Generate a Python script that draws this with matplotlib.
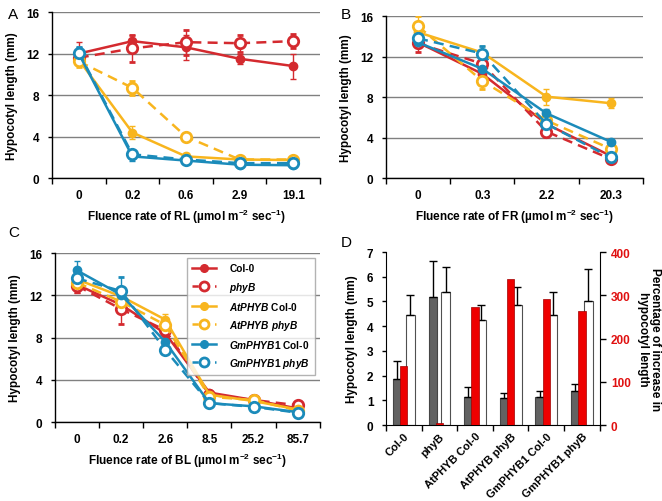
import numpy as np
import matplotlib
matplotlib.use('Agg')
import matplotlib.pyplot as plt
from matplotlib.lines import Line2D

plt.rcParams['font.family'] = ['Liberation Sans', 'DejaVu Sans']
plt.rcParams['font.weight'] = 'bold'
plt.rcParams['mathtext.fontset'] = 'custom'
plt.rcParams['mathtext.rm'] = 'Liberation Sans:bold'
plt.rcParams['mathtext.bf'] = 'Liberation Sans:bold'
plt.rcParams['mathtext.it'] = 'Liberation Sans:bold:italic'
plt.rcParams['mathtext.default'] = 'bf'

# --- Data ---
# Panel A: red light
rl_levels = ['0', '0.2', '0.6', '2.9', '19.1']
a_col0 = [12.0, 13.2, 12.6, 11.5, 10.8]
a_col0_err = [1.1, 0.6, 1.2, 0.5, 1.2]
a_phyb = [11.6, 12.5, 13.1, 13.0, 13.2]
a_phyb_err = [0.5, 1.3, 1.2, 0.8, 0.7]
a_at_col0 = [11.4, 4.4, 2.1, 1.8, 1.75]
a_at_col0_err = [0.5, 0.6, 0.3, 0.2, 0.2]
a_at_phyb = [11.25, 8.7, 4.0, 1.8, 1.8]
a_at_phyb_err = [0.5, 0.7, 0.4, 0.2, 0.2]
a_gm_col0 = [12.0, 2.1, 1.7, 1.3, 1.25]
a_gm_col0_err = [0.6, 0.4, 0.2, 0.2, 0.2]
a_gm_phyb = [12.1, 2.3, 1.8, 1.45, 1.45]
a_gm_phyb_err = [0.5, 0.4, 0.2, 0.2, 0.2]

# Panel B: far-red light
fr_levels = ['0', '0.3', '2.2', '20.3']
b_col0 = [13.4, 10.3, 5.35, 2.2]
b_col0_err = [0.6, 0.6, 0.5, 0.3]
b_phyb = [13.3, 11.3, 4.6, 1.9]
b_phyb_err = [0.8, 0.6, 0.5, 0.3]
b_at_col0 = [14.4, 12.4, 8.05, 7.4]
b_at_col0_err = [0.6, 0.6, 0.8, 0.5]
b_at_phyb = [15.0, 9.6, 5.7, 2.9]
b_at_phyb_err = [1.0, 0.8, 0.5, 0.4]
b_gm_col0 = [13.4, 10.8, 6.4, 3.6]
b_gm_col0_err = [0.5, 0.5, 0.4, 0.3]
b_gm_phyb = [13.8, 12.3, 5.35, 2.05]
b_gm_phyb_err = [0.5, 0.7, 0.5, 0.3]

# Panel C: blue light
bl_levels = ['0', '0.2', '2.6', '8.5', '25.2', '85.7']
c_col0 = [13.0, 11.1, 8.4, 2.8, 2.1, 1.3]
c_col0_err = [0.8, 0.5, 0.4, 0.2, 0.2, 0.2]
c_phyb = [12.9, 10.7, 8.7, 2.6, 2.1, 1.6]
c_phyb_err = [0.6, 1.4, 0.4, 0.2, 0.2, 0.2]
c_at_col0 = [13.5, 11.9, 9.7, 2.6, 2.0, 1.2]
c_at_col0_err = [0.5, 0.5, 0.5, 0.2, 0.2, 0.2]
c_at_phyb = [13.2, 11.4, 9.2, 2.4, 2.1, 1.1]
c_at_phyb_err = [0.5, 0.5, 0.4, 0.2, 0.2, 0.2]
c_gm_col0 = [14.35, 12.05, 7.6, 1.8, 1.5, 0.95]
c_gm_col0_err = [0.9, 0.6, 0.4, 0.2, 0.2, 0.2]
c_gm_phyb = [13.6, 12.4, 6.85, 1.8, 1.45, 0.9]
c_gm_phyb_err = [0.5, 1.3, 0.4, 0.2, 0.2, 0.2]

# Panel D: bar chart
genotypes = ['Col-0', 'phyB', 'AtPHYB Col-0', 'AtPHYB phyB', 'GmPHYB1 Col-0', 'GmPHYB1 phyB']
d_gray = [1.87, 5.18, 1.13, 1.10, 1.13, 1.38]
d_gray_err = [0.72, 1.45, 0.43, 0.20, 0.26, 0.27]
d_white = [4.45, 5.40, 4.25, 4.85, 4.45, 5.03]
d_white_err = [0.80, 1.01, 0.60, 0.75, 0.92, 1.27]
d_pct = [137, 6, 272, 338, 292, 263]

series_names = ['Col-0', r'$\mathit{phyB}$', r'$\mathit{AtPHYB}$ Col-0', r'$\mathit{AtPHYB\ phyB}$',
                r'$\mathit{GmPHYB1}$ Col-0', r'$\mathit{GmPHYB1\ phyB}$']

RED = '#d42a2f'
ORANGE = '#f8b51e'
BLUE = '#1b8bba'
colors = [RED, RED, ORANGE, ORANGE, BLUE, BLUE]
dashed = [False, True, False, True, False, True]

fig = plt.figure(figsize=(6.62, 5.02), dpi=100)


def style_line_axes(ax, levels, xlabel):
    n = len(levels)
    ax.set_xlim(-0.5, n - 0.5)
    ax.set_ylim(0, 16)
    ax.set_yticks([0, 4, 8, 12, 16])
    ax.set_xticks(range(n))
    ax.set_xticklabels(levels)
    ax.set_xticks(np.arange(-0.5, n), minor=True)
    ax.tick_params(axis='x', which='major', length=0, pad=8, labelsize=8.5)
    ax.tick_params(axis='x', which='minor', length=4, width=1, direction='out')
    ax.tick_params(axis='y', length=3, width=1, labelsize=8.5, pad=6)
    ax.grid(axis='y', color='#808080', lw=1)
    ax.set_axisbelow(True)
    for s in ['top', 'right']:
        ax.spines[s].set_visible(False)
    ax.spines['left'].set_linewidth(1)
    ax.spines['bottom'].set_linewidth(1)
    ax.set_ylabel('Hypocotyl length (mm)', fontsize=8.5, fontweight='bold', labelpad=6)
    ax.set_xlabel(xlabel, fontsize=8.5, fontweight='bold', labelpad=4)


def plot_series(ax, vals_list, errs_list):
    x = np.arange(len(vals_list[0]))
    for vals, errs, c, d in zip(vals_list, errs_list, colors, dashed):
        if d:
            ax.errorbar(x, vals, yerr=errs, color=c, ls=(0, (4, 2.5)), lw=1.8, marker='o', ms=7.5,
                        mfc='white', mec=c, mew=2, ecolor=c, elinewidth=1, capsize=2, zorder=3)
        else:
            ax.errorbar(x, vals, yerr=errs, color=c, ls='-', lw=1.8, marker='o', ms=6,
                        mfc=c, mec=c, ecolor=c, elinewidth=1, capsize=2, zorder=3)


# Panel A
axA = fig.add_axes([0.0785, 0.643, 0.405, 0.331])
plot_series(axA, [a_col0, a_phyb, a_at_col0, a_at_phyb, a_gm_col0, a_gm_phyb],
            [a_col0_err, a_phyb_err, a_at_col0_err, a_at_phyb_err, a_gm_col0_err, a_gm_phyb_err])
style_line_axes(axA, rl_levels, r'Fluence rate of RL (µmol m$^{-2}$ sec$^{-1}$)')

# Panel B
axB = fig.add_axes([0.583, 0.643, 0.388, 0.323])
plot_series(axB, [b_col0, b_phyb, b_at_col0, b_at_phyb, b_gm_col0, b_gm_phyb],
            [b_col0_err, b_phyb_err, b_at_col0_err, b_at_phyb_err, b_gm_col0_err, b_gm_phyb_err])
style_line_axes(axB, fr_levels, r'Fluence rate of FR (µmol m$^{-2}$ sec$^{-1}$)')

# Panel C
axC = fig.add_axes([0.083, 0.157, 0.4, 0.337])
plot_series(axC, [c_col0, c_phyb, c_at_col0, c_at_phyb, c_gm_col0, c_gm_phyb],
            [c_col0_err, c_phyb_err, c_at_col0_err, c_at_phyb_err, c_gm_col0_err, c_gm_phyb_err])
style_line_axes(axC, bl_levels, r'Fluence rate of BL (µmol m$^{-2}$ sec$^{-1}$)')

handles = []
for c, d in zip(colors, dashed):
    if d:
        handles.append(Line2D([], [], color=c, ls=(0, (2.5, 2)), lw=1.8, marker='o', ms=6.5,
                              mfc='white', mec=c, mew=2))
    else:
        handles.append(Line2D([], [], color=c, ls='-', lw=1.8, marker='o', ms=5.5, mfc=c, mec=c))
leg = axC.legend(handles, series_names, loc='upper right', bbox_to_anchor=(0.99, 0.98),
                 fontsize=7.3, frameon=True, fancybox=False, edgecolor='#a0a0a0',
                 handlelength=2.4, handletextpad=1.3, labelspacing=0.6, borderpad=0.5,
                 borderaxespad=0.2)
leg.get_frame().set_linewidth(1)

# Panel D
axD = fig.add_axes([0.583, 0.151, 0.323, 0.345])
xg = np.arange(len(genotypes))
axD.bar(xg - 0.19, d_gray, width=0.23, color='#626262', edgecolor='#454545', lw=0.8,
        yerr=[np.zeros(len(d_gray)), d_gray_err], capsize=3,
        error_kw=dict(elinewidth=1, capthick=1, ecolor='black'), zorder=2)
axD.bar(xg + 0.18, d_white, width=0.25, color='white', edgecolor='#505050', lw=0.8,
        yerr=[np.zeros(len(d_white)), d_white_err], capsize=3,
        error_kw=dict(elinewidth=1, capthick=1, ecolor='black'), zorder=2)
axD.set_xlim(-0.5, len(genotypes) - 0.5)
axD.set_ylim(0, 7)
axD.set_yticks(range(8))
axD.set_xticks(xg)
axD.set_xticklabels(genotypes, rotation=45, ha='right', rotation_mode='anchor', fontsize=8)
axD.set_xticks(np.arange(-0.5, len(genotypes)), minor=True)
axD.tick_params(axis='x', which='major', length=0, pad=4)
axD.tick_params(axis='x', which='minor', length=4, width=1)
axD.tick_params(axis='y', length=3, width=1, labelsize=8.5, pad=6)
axD.spines['top'].set_visible(False)
axD.spines['right'].set_visible(False)
axD.set_ylabel('Hypocotyl length (mm)', fontsize=8.5, fontweight='bold', labelpad=6)

axD2 = axD.twinx()
axD2.bar(xg, d_pct, width=0.2, color='#ee0000', edgecolor='#a00000', lw=0.5, zorder=3)
axD2.set_ylim(0, 400)
axD2.set_yticks([0, 100, 200, 300, 400])
axD2.tick_params(axis='y', length=4, width=1, labelsize=8.5, labelcolor='#e01010', pad=4)
axD2.spines['top'].set_visible(False)
axD2.spines['left'].set_visible(False)
axD2.spines['bottom'].set_visible(False)
axD2.set_ylabel('Percentage of increase in\nhypocotyl length', fontsize=8.5, fontweight='bold',
                rotation=-90, labelpad=22, linespacing=1.0)

# Panel letters
fig.text(0.012, 0.985, 'A', fontsize=11, fontweight='normal', va='top')
fig.text(0.515, 0.985, 'B', fontsize=11, fontweight='normal', va='top')
fig.text(0.012, 0.55, 'C', fontsize=11, fontweight='normal', va='top')
fig.text(0.515, 0.53, 'D', fontsize=11, fontweight='normal', va='top')

fig.savefig('out.png', dpi=100)
